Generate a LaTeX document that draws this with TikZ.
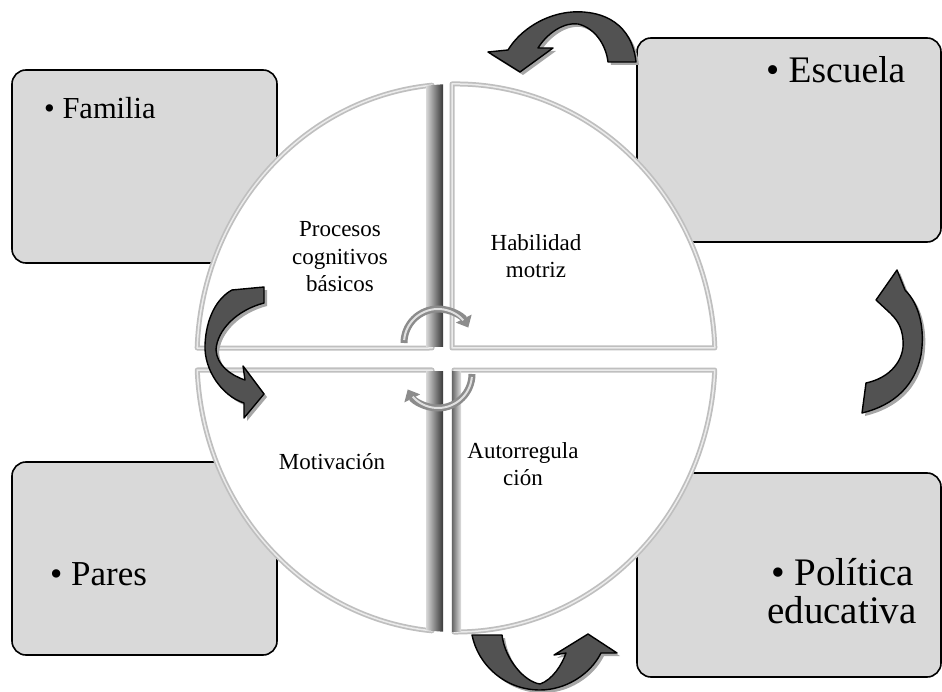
\documentclass[tikz,border=0pt]{standalone}
\usepackage{fontspec}
\setmainfont{Liberation Serif}
\usetikzlibrary{shadows,arrows.meta}

\tikzset{
  panel/.style={draw=black, line width=1.6pt, fill=black!15, rounded corners=14pt,
    minimum width=265pt, minimum height=193pt, inner sep=0pt},
  widepanel/.style={panel, minimum width=304pt, minimum height=204pt},
  quad/.style={fill=white, draw=black!25, line width=5pt, line join=round,
    postaction={draw=black!8, line width=1.5pt}},
  bigarrow/.style={fill=black!68, draw=black, line width=1.4pt, line join=round,
    drop shadow={shadow xshift=3pt, shadow yshift=-3pt, fill=black!35, opacity=1}},
  spin/.style={line width=7pt, draw=black!45, -{Triangle[length=10pt,width=17pt]}},
  spinlight/.style={line width=2pt, draw=black!12},
  boxtext/.style={anchor=base west, inner sep=0pt},
  qtext/.style={align=center, inner sep=0pt, font=\fontsize{23}{27.5}\selectfont}
}

\begin{document}
\begin{tikzpicture}[x=1pt,y=-1pt]
\useasboundingbox (0,0) rectangle (942,692);

% corner panels
\node[panel] (familia) at (144.5,166.5) {};
\node[panel] (pares) at (144.5,558.5) {};
\node[widepanel] (escuela) at (789,140) {};
\node[widepanel] (politica) at (789,575) {};

\node[boxtext, font=\fontsize{30.5}{36}\selectfont] (tfam) at (44,119) {• Familia};
\node[boxtext, font=\fontsize{35}{40}\selectfont] (tpar) at (50,585) {• Pares};
\node[boxtext, font=\fontsize{37.5}{44}\selectfont] (tesc) at (766,83) {• Escuela};
\node[anchor=north west, inner sep=0pt, align=left,
      font=\fontsize{39}{38}\selectfont] (tpol) at (767,558)
      {\hspace*{4pt}• Política\\educativa};

% the four quadrants of the central disc
\path[quad] (432,348) -- (432,85.2)
  arc[start angle=264.68, end angle=182.09, x radius=259, y radius=274] -- cycle;
\path[quad] (452,348) -- (452,84.0)
  arc[start angle=269.115, end angle=357.91, x radius=259, y radius=274] -- cycle;
\path[quad] (432,370) -- (197.25,370)
  arc[start angle=177.49, end angle=95.32, x radius=259, y radius=274] -- cycle;
\path[quad] (454,370) -- (454,632)
  arc[start angle=90.44, end angle=2.51, x radius=259, y radius=274] -- cycle;

% bevelled dividers
\begin{scope}
  \clip (456,358) ellipse [x radius=259, y radius=274];
  \shade[left color=black!15, right color=black!78] (426,80) rectangle (443,347);
  \shade[left color=black!15, right color=black!78] (426,371) rectangle (443,640);
  \shade[left color=black!60, right color=black!12] (452,371) rectangle (461,640);
\end{scope}

% quadrant labels
\node[qtext] (q1) at (340,257) {Procesos\\cognitivos\\básicos};
\node[qtext] (q2) at (536,256) {Habilidad\\motriz};
\node[qtext] (q3) at (332,462) {Motivación};
\node[qtext] (q4) at (523,464) {Autorregula\\ción};

% small cycle arrows at the centre
\coordinate (spinA) at (438,343);
\coordinate (spinB) at (438,374);
\draw[spin] ([shift={(180:34)}]spinA) arc[start angle=180, end angle=333, radius=34];
\draw[spinlight] ([shift={(185:34)}]spinA) arc[start angle=185, end angle=318, radius=34];
\draw[spin] ([shift={(0:34)}]spinB) arc[start angle=0, end angle=153, radius=34];
\draw[spinlight] ([shift={(5:34)}]spinB) arc[start angle=5, end angle=138, radius=34];

% big curved arrows
\path[bigarrow] (608,62) -- (636,62)
  .. controls (632,25) and (605,10) .. (572,12)
  .. controls (545,14) and (520,30) .. (508,50)
  -- (488,52) -- (520,72) -- (553,48) -- (538,48)
  .. controls (548,32) and (565,22) .. (578,24)
  .. controls (595,28) and (606,45) .. (608,62) -- cycle;

\path[bigarrow] (232,290) -- (264,287) -- (264,303)
  .. controls (237,310) and (217,330) .. (216,350)
  .. controls (217,365) and (230,375) .. (245,380)
  -- (243,366) -- (264,394) -- (244,418) -- (244,403)
  .. controls (222,396) and (204,370) .. (205,345)
  .. controls (206,318) and (217,298) .. (232,290) -- cycle;

\path[bigarrow] (862,413) -- (866,383)
  .. controls (890,378) and (905,360) .. (903,340)
  .. controls (902,325) and (895,318) .. (890,313)
  -- (876,300) -- (897,270) -- (905,290)
  .. controls (920,305) and (925,330) .. (921,355)
  .. controls (915,385) and (895,405) .. (862,413) -- cycle;

\path[bigarrow] (472,635) -- (502,635)
  .. controls (505,660) and (525,682) .. (540,684)
  .. controls (552,680) and (562,665) .. (566,653)
  -- (554,655) -- (588,634) -- (617,653) -- (601,653)
  .. controls (590,675) and (565,690) .. (540,690)
  .. controls (505,690) and (478,665) .. (472,635) -- cycle;
\end{tikzpicture}
\end{document}
